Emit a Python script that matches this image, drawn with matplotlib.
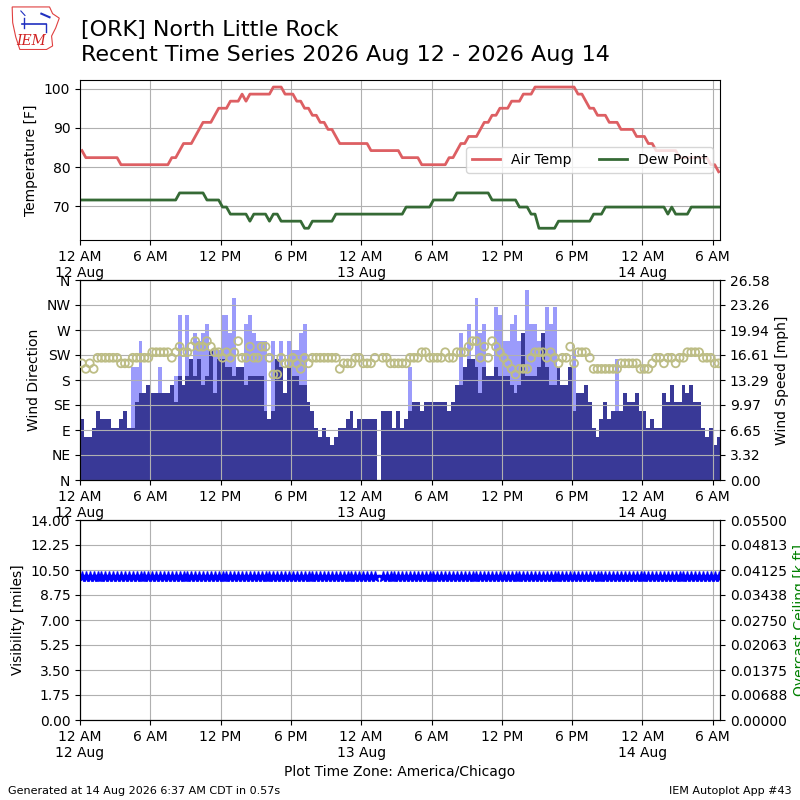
'''
Recent time series for ORK (North Little Rock): temperature, wind, visibility.
'''

import datetime

import numpy as np
import matplotlib
matplotlib.use('Agg')
import matplotlib.pyplot as plt
import matplotlib.dates as mdates
from matplotlib.ticker import FuncFormatter, FixedLocator
from matplotlib.patches import Polygon

# Janela do grafico e passo das observacoes (20 min)
START = datetime.datetime(2026, 8, 12, 0, 0)
END = datetime.datetime(2026, 8, 14, 6, 37)
STEP_MIN = 20

# Temperatura do ar e ponto de orvalho [C], uma por observacao
tmpc = [29, 28, 28, 28, 28, 28, 28, 28, 28, 28, 27, 27, 27, 27, 27, 27, 27, 27, 27, 27,
        27, 27, 27, 28, 28, 29, 30, 30, 30, 31, 32, 33, 33, 33, 34, 35, 35, 35, 36, 36,
        36, 37, 36, 37, 37, 37, 37, 37, 37, 38, 38, 38, 37, 37, 37, 36, 36, 35, 35, 34,
        34, 33, 33, 32, 32, 31, 30, 30, 30, 30, 30, 30, 30, 30, 29, 29, 29, 29, 29, 29,
        29, 29, 28, 28, 28, 28, 28, 27, 27, 27, 27, 27, 27, 27, 28, 28, 29, 30, 30, 31,
        31, 31, 32, 33, 33, 34, 34, 35, 35, 35, 36, 36, 36, 37, 37, 37, 38, 38, 38, 38,
        38, 38, 38, 38, 38, 38, 38, 37, 37, 36, 35, 35, 34, 34, 34, 33, 33, 33, 32, 32,
        32, 32, 31, 31, 31, 30, 30, 29, 29, 29, 29, 29, 29, 28, 28, 28, 28, 28, 28, 28,
        28, 27, 27, 26]
dwpc = [22, 22, 22, 22, 22, 22, 22, 22, 22, 22, 22, 22, 22, 22, 22, 22, 22, 22, 22, 22,
        22, 22, 22, 22, 22, 23, 23, 23, 23, 23, 23, 23, 22, 22, 22, 22, 21, 21, 20, 20,
        20, 20, 20, 19, 20, 20, 20, 20, 19, 20, 20, 19, 19, 19, 19, 19, 19, 18, 18, 19,
        19, 19, 19, 19, 19, 20, 20, 20, 20, 20, 20, 20, 20, 20, 20, 20, 20, 20, 20, 20,
        20, 20, 20, 21, 21, 21, 21, 21, 21, 21, 22, 22, 22, 22, 22, 22, 23, 23, 23, 23,
        23, 23, 23, 23, 23, 22, 22, 22, 22, 22, 22, 22, 21, 21, 21, 20, 20, 18, 18, 18,
        18, 18, 19, 19, 19, 19, 19, 19, 19, 19, 19, 20, 20, 20, 21, 21, 21, 21, 21, 21,
        21, 21, 21, 21, 21, 21, 21, 21, 21, 21, 20, 21, 20, 20, 20, 20, 21, 21, 21, 21,
        21, 21, 21, 21]

# Vento: velocidade e rajada [kt] (0 = sem rajada), direcao [graus]
sknt = [7, 5, 5, 6, 8, 7, 7, 7, 6, 6, 7, 8, 6, 6, 9, 10, 10, 11, 10, 10,
        10, 10, 10, 11, 9, 12, 11, 12, 14, 12, 14, 11, 12, 15, 10, 14, 14, 13, 13, 12,
        13, 13, 11, 12, 12, 12, 12, 8, 7, 8, 14, 13, 10, 13, 12, 12, 11, 11, 9, 8,
        6, 5, 6, 5, 4, 5, 6, 6, 7, 8, 6, 7, 7, 7, 7, 7, None, 8, 8, 8,
        6, 8, 6, 7, 8, 9, 9, 8, 9, 9, 9, 9, 9, 9, 8, 9, 11, 11, 13, 14,
        14, 13, 10, 13, 12, 12, 13, 12, 12, 12, 11, 10, 11, 17, 12, 12, 12, 13, 17, 13,
        11, 11, 13, 11, 11, 13, 8, 10, 10, 11, 9, 6, 5, 7, 9, 7, 8, 8, 8, 10,
        9, 9, 10, 8, 8, 6, 7, 6, 6, 10, 9, 11, 9, 9, 11, 10, 11, 9, 9, 6,
        5, 6, 4, 5]
gust = [0, 0, 0, 0, 0, 0, 0, 0, 0, 0, 0, 0, 0, 13, 13, 16, 0, 0, 0, 0,
        13, 0, 0, 0, 12, 19, 0, 19, 0, 17, 16, 17, 18, 0, 15, 15, 19, 19, 17, 21,
        0, 0, 18, 19, 17, 16, 16, 16, 0, 16, 0, 16, 0, 16, 15, 15, 17, 18, 0, 0,
        0, 0, 0, 0, 0, 0, 0, 0, 0, 0, 0, 0, 0, 0, 0, 0, 0, 0, 0, 0,
        0, 0, 0, 0, 13, 0, 0, 0, 0, 0, 0, 0, 0, 0, 0, 0, 0, 17, 0, 18,
        0, 21, 17, 18, 0, 0, 20, 19, 16, 16, 18, 19, 16, 0, 22, 18, 18, 16, 0, 20,
        18, 20, 0, 0, 0, 0, 15, 0, 0, 0, 0, 0, 0, 0, 0, 0, 0, 14, 0, 0,
        0, 0, 0, 0, 0, 0, 0, 0, 0, 0, 0, 0, 0, 0, 0, 0, 0, 0, 0, 0,
        0, 0, 0, 0]
drct = [210, 200, 210, 200, 220, 220, 220, 220, 220, 220, 210, 210, 210, 220, 220, 220, 220, 220, 230, 230,
        230, 230, 230, 220, 230, 240, 230, 230, 240, 250, 240, 240, 250, 240, 230, 230, 220, 230, 220, 230,
        250, 220, 220, 240, 220, 220, 240, 240, 220, 190, 190, 220, 210, 210, 220, 210, 200, 220, 210, 220,
        220, 220, 220, 220, 220, 220, 200, 210, 210, 210, 220, 220, 210, 210, 210, 220, None, 220, 220, 210,
        210, 210, 210, 210, 220, 220, 220, 230, 230, 220, 220, 220, 220, 230, 220, 220, 230, 230, 230, 240,
        250, 250, 220, 240, 220, 250, 240, 230, 220, 210, 200, 190, 200, 200, 200, 220, 230, 230, 230, 220,
        230, 220, 210, 220, 220, 240, 210, 230, 230, 230, 220, 200, 200, 200, 200, 200, 200, 200, 210, 210,
        210, 210, 210, 200, 200, 200, 210, 220, 220, 210, 220, 220, 210, 220, 220, 230, 230, 230, 230, 220,
        220, 220, 210, 210]

# Visibilidade [milhas], uma observacao sem dados
vsby = [10.0] * 76 + [None] + [10.0] * 87

DRCT_TICKS = [0, 45, 90, 135, 180, 225, 270, 315, 360]
DRCT_LABELS = ['N', 'NE', 'E', 'SE', 'S', 'SW', 'W', 'NW', 'N']
KT2MPH = 1.15078


def as_array(values):
	return np.array([np.nan if v is None else v for v in values], dtype=float)


def fmt_time(x, pos=None):
	dt = mdates.num2date(x).replace(tzinfo=None)
	hr = dt.hour
	label = '%d %s' % (hr % 12 or 12, 'AM' if hr < 12 else 'PM')
	if hr == 0 and dt.minute == 0:
		label += dt.strftime('\n%d %b')
	return label


def style_time_axis(ax):
	ax.set_xlim(START, END)
	ax.xaxis.set_major_locator(mdates.HourLocator(byhour=[0, 6, 12, 18]))
	ax.xaxis.set_major_formatter(FuncFormatter(fmt_time))
	ax.grid(True)


def draw_logo(fig):
	lax = fig.add_axes([0.012, 0.937, 0.064, 0.056])
	lax.set_xlim(0, 1)
	lax.set_ylim(0, 1)
	lax.axis('off')
	outline = [(0.05, 0.97), (0.78, 0.97), (0.84, 0.82), (0.97, 0.72), (0.9, 0.5),
			   (0.82, 0.32), (0.84, 0.1), (0.72, 0.02), (0.2, 0.02), (0.12, 0.3), (0.06, 0.62)]
	lax.add_patch(Polygon(outline, closed=True, fill=False, edgecolor='#e04040', lw=0.8))
	lax.text(0.43, 0.2, 'IEM', color='#d02020', fontsize=10, family='DejaVu Serif',
			 style='italic', ha='center', va='center')
	lax.plot([0.25, 0.72], [0.6, 0.6], color='#2030c0', lw=1.2)
	lax.plot([0.28, 0.28], [0.5, 0.72], color='#2030c0', lw=1.0)
	lax.plot([0.22, 0.3], [0.88, 0.78], color='#2030c0', lw=0.8)
	lax.plot([0.62, 0.78], [0.82, 0.74], color='#2030c0', lw=1.5)
	lax.plot([0.72, 0.72], [0.6, 0.4], color='#2030c0', lw=1.0)


def main():
	nobs = len(tmpc)
	times = [START + datetime.timedelta(minutes=10 + STEP_MIN * i) for i in range(nobs)]
	tnum = mdates.date2num(times)
	width = STEP_MIN / 1440.0

	tmpf = np.array(tmpc, float) * 9.0 / 5.0 + 32.0
	dwpf = np.array(dwpc, float) * 9.0 / 5.0 + 32.0
	smph = as_array(sknt) * KT2MPH
	gmph = as_array(gust) * KT2MPH
	wdir = as_array(drct)
	vis = as_array(vsby)

	fig = plt.figure(figsize=(8, 8), dpi=100)

	fig.text(0.101, 0.975, '[ORK] North Little Rock\nRecent Time Series 2026 Aug 12 - 2026 Aug 14',
			 fontsize=16, va='top', ha='left', linespacing=1.3)
	draw_logo(fig)

	# Painel 1: temperaturas
	ax_t = fig.add_axes([0.1, 0.7, 0.8, 0.2])
	ax_t.plot(tnum, tmpf, color='#dd5f63', lw=2, label='Air Temp')
	ax_t.plot(tnum, dwpf, color='#356a35', lw=2, label='Dew Point')
	lo = np.nanmin(dwpf) - 3
	hi = np.nanmax(tmpf) + 0.05 * (np.nanmax(tmpf) - np.nanmin(dwpf))
	ax_t.set_ylim(lo, hi)
	ax_t.set_ylabel('Temperature [F]')
	style_time_axis(ax_t)
	ax_t.legend(loc='center right', ncol=2)

	# Painel 2: vento
	ax_w = fig.add_axes([0.1, 0.4, 0.8, 0.25])
	ax_s = ax_w.twinx()
	ok = gmph > 0
	ax_s.bar(tnum[ok], gmph[ok], width=width, color='#9b9bfb', lw=0)
	ok = ~np.isnan(smph)
	ax_s.bar(tnum[ok], smph[ok], width=width, color='#393997', lw=0)
	ymax = np.nanmax(np.fmax(gmph, smph)) * 1.05
	ax_s.set_ylim(0, ymax)
	sticks = np.linspace(0, ymax, 9)
	ax_s.yaxis.set_major_locator(FixedLocator(sticks))
	ax_s.set_yticklabels(['%.2f' % (v + 1e-9) for v in sticks])
	ax_s.set_ylabel('Wind Speed [mph]')

	ok = ~np.isnan(wdir)
	ax_w.scatter(tnum[ok], wdir[ok], s=32, facecolors='none', edgecolors='#bdbd85',
				 linewidths=1.3, zorder=3)
	ax_w.set_ylim(0, 360)
	ax_w.set_yticks(DRCT_TICKS)
	ax_w.set_yticklabels(DRCT_LABELS)
	ax_w.set_ylabel('Wind Direction')
	ax_w.set_zorder(ax_s.get_zorder() + 1)
	ax_w.patch.set_visible(False)
	style_time_axis(ax_w)

	# Painel 3: visibilidade e teto
	ax_v = fig.add_axes([0.1, 0.1, 0.8, 0.25])
	ax_v.plot(tnum, vis, linestyle='none', marker='*', color='b', ms=8)
	ax_v.set_ylim(0, 14)
	vticks = np.linspace(0, 14, 9)
	ax_v.yaxis.set_major_locator(FixedLocator(vticks))
	ax_v.set_yticklabels(['%.2f' % v for v in vticks])
	ax_v.set_ylabel('Visibility [miles]')
	ax_v.set_xlabel('Plot Time Zone: America/Chicago')
	style_time_axis(ax_v)

	ax_c = ax_v.twinx()
	ax_c.set_ylim(0, 0.055)
	cticks = np.linspace(0, 0.055, 9)
	ax_c.yaxis.set_major_locator(FixedLocator(cticks))
	ax_c.set_yticklabels(['%.5f' % (v + 1e-12) for v in cticks])
	ax_c.set_ylabel('Overcast Ceiling [k ft]', color='g')

	fig.text(0.01, 0.008, 'Generated at 14 Aug 2026 6:37 AM CDT in 0.57s', fontsize=8)
	fig.text(0.99, 0.008, 'IEM Autoplot App #43', fontsize=8, ha='right')

	fig.savefig('out.png', dpi=100)


if __name__ == '__main__':
	main()
